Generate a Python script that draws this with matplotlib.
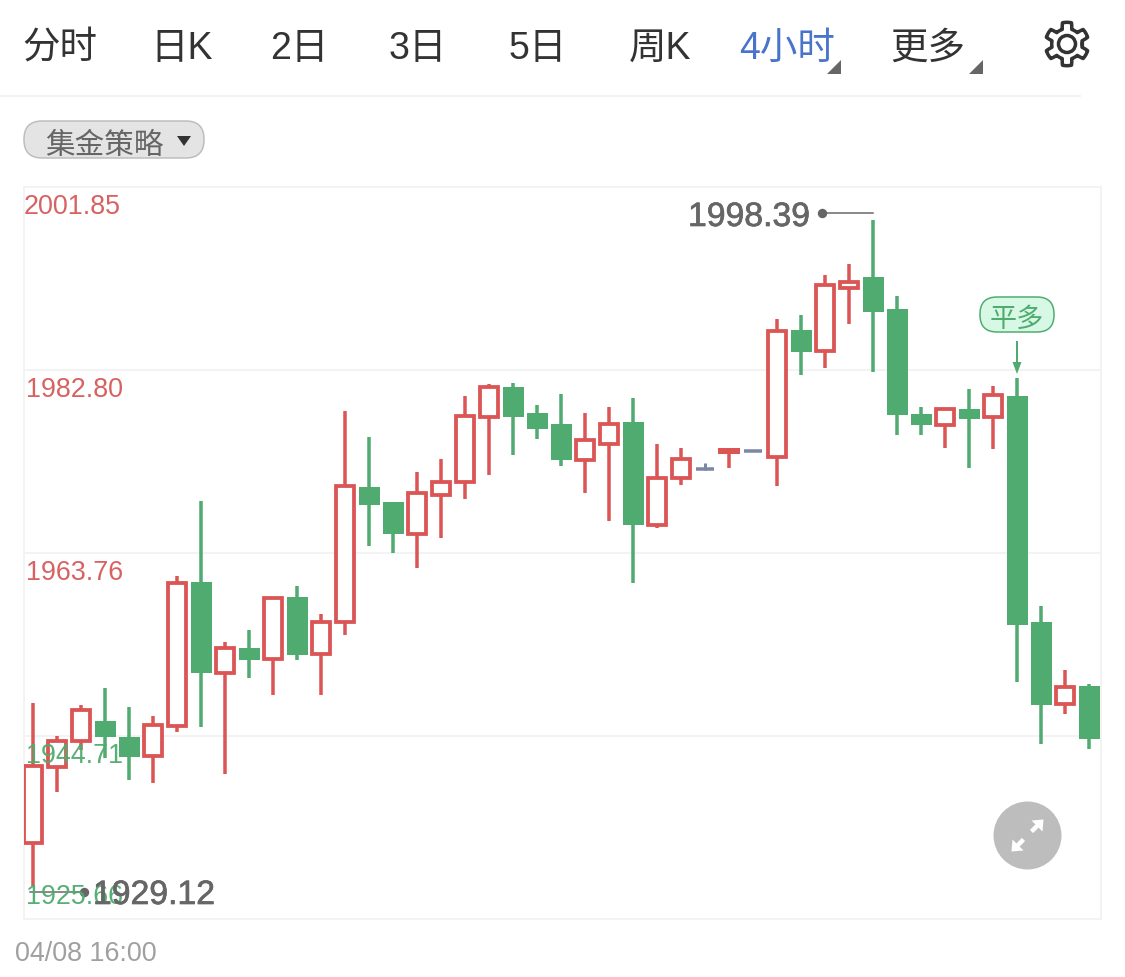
import numpy as np
import matplotlib
matplotlib.use("Agg")
import matplotlib.pyplot as plt
from matplotlib.patches import FancyBboxPatch, Polygon, Circle
import matplotlib.patheffects as pe

plt.rcParams['font.family'] = ['Liberation Sans', 'Noto Sans CJK SC', 'DejaVu Sans']

# ---------- data ----------
highs = [1948.14,1944.71,1947.93,1949.70,1947.73,1946.79,1961.36,1969.17,1954.49,1955.74,
         1959.07,1960.32,1957.41,1978.53,1975.83,1969.06,1972.19,1973.54,1980.10,1981.35,
         1981.45,1979.16,1980.30,1978.33,1978.95,1979.89,1975.10,1974.68,1973.12,1974.58,
         1974.37,1988.11,1988.53,1992.69,1993.84,1998.39,1990.50,1978.95,1978.85,1980.82,
         1981.14,1981.97,1958.24,1951.58,1950.12]
tops = [1941.59,1944.19,1947.41,1946.27,1944.60,1945.85,1960.63,1960.74,1953.87,1953.87,
        1959.07,1959.18,1956.57,1970.73,1970.62,1969.06,1970.00,1971.14,1978.01,1981.03,
        1981.03,1978.33,1977.18,1975.52,1977.18,1977.39,1971.56,1973.54,1972.50,1974.58,
        1974.37,1986.86,1986.97,1991.65,1991.96,1992.48,1989.15,1978.22,1978.74,1978.74,
        1980.20,1980.10,1956.57,1949.81,1949.91]
bottoms = [1933.57,1941.48,1944.19,1944.60,1942.52,1942.63,1945.75,1951.26,1951.26,1952.62,
           1952.72,1953.14,1953.24,1956.57,1968.75,1965.73,1965.73,1969.79,1971.14,1977.91,
           1977.91,1976.66,1973.43,1973.43,1975.10,1966.67,1966.67,1971.56,1972.50,1974.16,
           1974.37,1973.75,1984.68,1984.78,1991.34,1988.84,1978.12,1977.08,1977.08,1977.70,
           1977.91,1956.26,1947.93,1948.04,1944.39]
lows = [1929.12,1938.88,1943.25,1942.42,1940.13,1939.82,1945.12,1945.64,1940.75,1950.74,
        1948.97,1952.62,1948.97,1955.22,1964.48,1963.75,1962.19,1965.32,1969.38,1971.87,
        1973.96,1975.62,1972.81,1970.00,1967.09,1960.63,1966.36,1970.83,1972.40,1972.60,
        1974.37,1970.73,1982.28,1983.01,1987.59,1982.59,1976.04,1976.04,1974.68,1972.60,
        1974.58,1950.33,1943.88,1947.00,1943.35]
# r = up (hollow red), g = down (solid green), f = flat (grey), u = thin solid red
kinds = list("rrrggrrgrgrgrrgg" "rrrr" "ggg" "rrg" "rr" "frfr" "grrgg" "grgr" "ggrg")
kinds[28] = 'f'; kinds[29] = 'u'; kinds[30] = 'f'

y_ticks = [2001.85, 1982.80, 1963.76, 1944.71, 1925.66]
y_labels = ["2001.85", "1982.80", "1963.76", "1944.71", "1925.66"]
y_label_colors = ["#d65a5a", "#d65a5a", "#d65a5a", "#4fab6f", "#4fab6f"]
x_label = "04/08 16:00"
max_label = "1998.39"
min_label = "1929.12"
nav_labels = ["分时", "日K", "2日", "3日", "5日", "周K", "4小时", "更多"]

RED, GREEN, GREY = "#dc5555", "#4fab6f", "#7c86a6"
GRID = "#f3f3f3"
W, H = 1125, 978
px = 72 / 100

fig = plt.figure(figsize=(W / 100, H / 100), dpi=100, facecolor="white")

# ---------- candle axes ----------
L, R, T, B = 24, 1101, 188, 920
ax = fig.add_axes([L / W, 1 - B / H, (R - L) / W, (B - T) / H])
ax.set_xlim(-0.375, 44.5)
ax.set_ylim(y_ticks[-1], y_ticks[0])
ax.set_xticks([])
ax.set_yticks(y_ticks[1:-1])
ax.tick_params(left=False, labelleft=False)
ax.grid(axis="y", color=GRID, lw=2 * px)
ax.set_axisbelow(True)
for s in ax.spines.values():
    s.set_color(GRID)
    s.set_linewidth(2 * px)

for i, k in enumerate(kinds):
    hi, to, bo, lo = highs[i], tops[i], bottoms[i], lows[i]
    if k == 'g':
        ax.vlines(i, lo, hi, color=GREEN, lw=3.5 * px, zorder=2)
        ax.bar(i, to - bo, bottom=bo, width=0.875, color=GREEN, lw=0, zorder=3)
    elif k == 'f':
        ax.vlines(i, lo, hi, color=GREY, lw=3 * px, zorder=2)
        ax.hlines(to, i - 0.375, i + 0.375, color=GREY, lw=3.5 * px, zorder=3)
    elif k == 'u':
        ax.vlines(i, lo, hi, color=RED, lw=3.5 * px, zorder=2)
        ax.bar(i, to - bo, bottom=bo, width=0.8, color=RED, edgecolor=RED, lw=2 * px, zorder=3)
    else:
        ax.vlines(i, lo, hi, color=RED, lw=3.5 * px, zorder=2)
        ax.bar(i, to - bo, bottom=bo, width=0.74, facecolor="white", edgecolor=RED,
               lw=3.8 * px, zorder=3)

# ---------- overlay in pixel coordinates ----------
ov = fig.add_axes([0, 0, 1, 1], facecolor="none")
ov.set_xlim(0, W)
ov.set_ylim(H, 0)
ov.axis("off")

def tx(x, y, s, size, color, ha="left", **kw):
    return ov.text(x, y, s, fontsize=size, color=color, ha=ha, va="center_baseline", **kw)

# nav bar
nav_x = [60, 182, 299, 418, 538, 660, 787, 928]
for x, s in zip(nav_x, nav_labels):
    tx(x, 45, s, 27, "#4a74c9" if s == "4小时" else "#333333", ha="center")
ov.plot([0, 1080], [96.5, 96.5], color=GRID, lw=2 * px)
for x in (841, 983):
    ov.add_patch(Polygon([[x, 61], [x, 75], [x - 14, 75]], closed=True, fc="#666666", ec="none"))

# gear icon
cx, cy = 1067, 45
ang = np.linspace(0, 2 * np.pi, 361)
rad = 18.5 + 3.2 * np.clip(3.2 * np.cos(6 * (ang + np.pi / 6)), -1, 1)
ov.plot(cx + rad * np.cos(ang), cy + rad * np.sin(ang), color="#333333", lw=3.5 * px)
ov.add_patch(Circle((cx, cy), 8.5, fc="none", ec="#333333", lw=3.5 * px))

# strategy pill
ov.add_patch(FancyBboxPatch((42, 140), 144, 1, boxstyle="round,pad=18,rounding_size=18",
                            fc="#e4e4e4", ec="#bdbdbd", lw=1.5 * px))
tx(104, 143, "集金策略", 21.3, "#666666", ha="center")
ov.add_patch(Polygon([[177, 137], [191, 137], [184, 147]], closed=True, fc="#333333", ec="none"))

# price labels
label_y = [204, 387, 570, 753, 894]
label_x = [24, 26, 26, 26, 26]
for x, y, s, c in zip(label_x, label_y, y_labels, y_label_colors):
    tx(x, y, s, 19.4, c, alpha=0.95)

# extreme markers
stroke = [pe.withStroke(linewidth=0.5, foreground="#666666")]
tx(688, 215, max_label, 24.3, "#666666", path_effects=stroke)
ov.plot([822, 873], [213.5, 213.5], color="#666666", lw=1.5 * px)
ov.plot([822], [213.5], "o", color="#666666", ms=8 * px)
tx(93, 893, min_label, 24.3, "#666666", path_effects=stroke)
ov.plot([30, 84], [892.5, 892.5], color="#666666", lw=1.5 * px)
ov.plot([84], [892.5], "o", color="#666666", ms=8 * px)

# x label
tx(15, 951, x_label, 19.4, "#a0a0a0")

# signal tag
ov.add_patch(FancyBboxPatch((997, 315), 40, 1, boxstyle="round,pad=17,rounding_size=17",
                            fc="#d6f8e4", ec="#4fab6f", lw=1.5 * px))
tx(1017, 317, "平多", 19.5, "#4fab6f", ha="center")
ov.plot([1017, 1017], [343, 366], color=GREEN, lw=2 * px)
ov.add_patch(Polygon([[1012.5, 363], [1021.5, 363], [1017, 375]], closed=True, fc=GREEN, ec="none"))

# full-screen button
bx, by = 1027.5, 836.5
ov.add_patch(Circle((bx, by), 34, fc="#bdbdbd", ec="none"))
for sx in (1, -1):
    ov.plot([bx + sx * 4, bx + sx * 11], [by - sx * 4, by - sx * 11], color="white", lw=4.5 * px,
            solid_capstyle="butt")
    ov.add_patch(Polygon([[bx + sx * 16, by - sx * 16], [bx + sx * 4, by - sx * 15],
                          [bx + sx * 15, by - sx * 4]], closed=True, fc="white", ec="none"))

fig.savefig("out.png", dpi=100, facecolor="white")
